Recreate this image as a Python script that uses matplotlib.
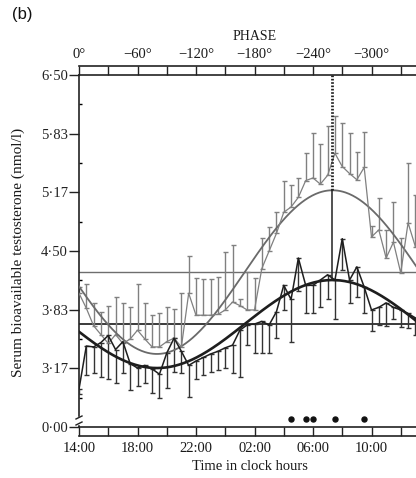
import numpy as np
import matplotlib
matplotlib.use("Agg")
import matplotlib.pyplot as plt
from matplotlib.lines import Line2D
from matplotlib.patches import Rectangle

# ---------------- data ----------------
hours = [0.0, 0.5, 1.0, 1.5, 2.0, 2.5, 3.0, 3.5, 4.0, 4.5, 5.0, 5.5, 6.0, 6.5,
         7.0, 7.5, 8.0, 8.5, 9.0, 9.5, 10.0, 10.5, 11.0, 11.5, 12.0, 12.5,
         13.0, 13.5, 14.0, 14.5, 15.0, 15.5, 16.0, 16.5, 17.0, 17.5, 18.0,
         18.5, 19.0, 19.5, 20.0, 20.5, 21.0, 21.5, 22.0, 22.5, 23.0]

gray_mean = [4.02, 3.85, 3.65, 3.55, 3.45, 3.55, 3.45, 3.50, 3.60, 3.50, 3.41,
             3.41, 3.47, 3.51, 3.41, 4.02, 3.77, 3.77, 3.77, 3.78, 3.83, 3.92,
             3.88, 3.83, 3.83, 4.30, 4.50, 4.70, 4.94, 5.00, 5.11, 5.30, 5.33,
             5.26, 5.36, 5.61, 5.46, 5.38, 5.31, 5.45, 4.66, 4.74, 4.42, 4.60,
             4.25, 4.82, 4.55]
gray_upper = [4.09, 4.12, 3.91, 3.81, 3.88, 3.98, 3.91, 3.86, 4.12, 3.91, 3.77,
              3.79, 3.86, 3.84, 4.02, 4.44, 4.19, 4.18, 4.18, 4.20, 4.49, 4.57,
              3.95, 4.26, 4.19, 4.65, 4.77, 4.94, 5.30, 5.25, 5.33, 5.61, 5.84,
              5.72, 5.92, 6.03, 5.96, 5.84, 5.63, 5.85, 4.78, 5.10, 4.74, 5.06,
              4.65, 5.50, 5.14]

black_mean = [2.93, 3.42, 3.41, 3.46, 3.54, 3.38, 3.47, 3.22, 3.17, 3.20, 3.16,
              3.10, 3.34, 3.51, 3.36, 3.20, 3.25, 3.29, 3.33, 3.36, 3.40, 3.43,
              3.60, 3.66, 3.67, 3.70, 3.66, 3.81, 4.11, 3.95, 4.42, 4.11, 4.11,
              4.17, 4.23, 4.17, 4.64, 4.17, 4.32, 4.09, 3.83, 3.86, 3.91, 3.86,
              3.83, 3.79, 3.74]
black_lower = [2.87, 3.09, 3.11, 3.07, 3.04, 3.00, 3.11, 2.92, 2.97, 3.00, 2.89,
               2.83, 2.94, 3.13, 3.11, 2.84, 3.05, 3.09, 3.12, 3.15, 3.17, 3.11,
               3.07, 3.43, 3.34, 3.34, 3.34, 3.51, 3.83, 3.47, 4.05, 3.80, 3.80,
               3.86, 3.95, 3.73, 4.28, 3.91, 3.98, 3.79, 3.59, 3.66, 3.65, 3.73,
               3.64, 3.62, 3.55]

# cosinor fits (mesor, amplitude, acrophase in hours after 14:00)
gray_mesor, gray_amp, gray_acro = 4.26, 0.93, 17.33
black_mesor, black_amp, black_acro = 3.67, 0.50, 17.33

sig_hours = [14.5, 15.5, 16.0, 17.5, 19.5]

time_ticks = [0, 4, 8, 12, 16, 20]
time_labels = ['14:00', '18:00', '22:00', '02:00', '06:00', '10:00']
phase_labels = ['0°', '\u221260°', '\u2212120°', '\u2212180°', '\u2212240°',
                '\u2212300°']
ytick_vals = [2.50, 3.17, 3.83, 4.50, 5.17, 5.83, 6.50]
ytick_labels = ['0·00', '3·17', '3·83', '4·50', '5·17', '5·83', '6·50']
yminor_vals = [2.83, 3.50, 4.17, 4.83, 5.50, 6.17]

# ---------------- figure ----------------
plt.rcParams['font.family'] = ['Liberation Serif', 'DejaVu Serif']
W, H = 416, 478
fig = plt.figure(figsize=(W / 100, H / 100), dpi=100)
ax = fig.add_axes([79 / W, (H - 427) / H, (430 - 79) / W, (427 - 75) / H])
ax.set_xlim(0, 24)
ax.set_ylim(2.5, 6.5)

hours_a = np.array(hours)
gm = np.array(gray_mean); gu = np.array(gray_upper)
bm = np.array(black_mean); bl = np.array(black_lower)

GRAY = '#808080'
DARK = '#1e1e1e'
TXT = '#1a1a1a'

# mesor lines
ax.axhline(gray_mesor, color='#6e6e6e', lw=1.0, zorder=1)
ax.axhline(black_mesor, color='#3a3a3a', lw=1.4, zorder=1)

# error bars
ax.errorbar(hours_a, gm, yerr=[np.zeros_like(gm), gu - gm], fmt='none',
            ecolor=GRAY, elinewidth=1.0, capsize=1.8, capthick=1.0, zorder=2)
ax.errorbar(hours_a, bm, yerr=[bm - bl, np.zeros_like(bm)], fmt='none',
            ecolor='#333333', elinewidth=1.0, capsize=1.8, capthick=1.0, zorder=3)

# fitted cosine curves
tt = np.linspace(0, 24, 400)
gray_fit = gray_mesor + gray_amp * np.cos(2 * np.pi * (tt - gray_acro) / 24)
black_fit = black_mesor + black_amp * np.cos(2 * np.pi * (tt - black_acro) / 24)
ax.plot(tt, gray_fit, color='#6a6a6a', lw=1.3, zorder=4)
ax.plot(tt, black_fit, color=DARK, lw=1.9, zorder=5)

# data lines
ax.plot(hours_a, gm, color=GRAY, lw=0.9, zorder=4)
ax.plot(hours_a, bm, color=DARK, lw=1.1, zorder=6)

# acrophase marker line
ax.plot([gray_acro, gray_acro], [6.5, gray_mesor + gray_amp], color='#222222',
        lw=2.0, ls=(0, (0.6, 0.6)), zorder=6)
ax.plot([gray_acro, gray_acro], [gray_mesor + gray_amp, black_mesor + black_amp],
        color='#222222', lw=1.1, zorder=6)

# significance dots
ax.plot(sig_hours, [2.59] * len(sig_hours), 'o', color='#111111', ms=3.6,
        zorder=7)

# spines
ax.spines['right'].set_visible(False)
for s in ['left', 'top', 'bottom']:
    ax.spines[s].set_linewidth(1.2)
    ax.spines[s].set_color('#222222')

# y axis
ax.set_yticks(ytick_vals)
ax.set_yticklabels(ytick_labels, fontsize=10.5, color=TXT)
ax.set_yticks(yminor_vals, minor=True)
ax.tick_params(axis='y', which='major', direction='out', length=7, width=1.0,
               pad=1, colors='#222222')
ax.tick_params(axis='y', which='minor', direction='in', length=2.5, width=1.0)

# x axis: rulers top & bottom
ax.set_xticks([])
band = 9 / 352
xtr = ax.get_xaxis_transform()
ax.plot([0, 24], [1 + band, 1 + band], color='#222222', lw=1.2,
        transform=xtr, clip_on=False)
ax.plot([0, 24], [-band, -band], color='#222222', lw=1.2,
        transform=xtr, clip_on=False)
rtick = list(range(0, 25, 2))
ax.vlines(rtick, 1, 1 + band, color='#222222', lw=1.0, transform=xtr,
          clip_on=False)
ax.vlines(rtick, -band, 0, color='#222222', lw=1.0, transform=xtr,
          clip_on=False)

for t, lab in zip(time_ticks, time_labels):
    ax.text(t, -21 / 352, lab, transform=xtr, ha='center', va='center',
            fontsize=10.5, color=TXT, clip_on=False)
for t, lab in zip(time_ticks, phase_labels):
    ax.text(t, 1 + 20 / 352, lab, transform=xtr, ha='center', va='center',
            fontsize=10.5, color=TXT, clip_on=False)

ax.text(12, 1 + 38 / 352, 'PHASE', transform=xtr, ha='center', va='center',
        fontsize=10, color=TXT)
fig.text(250 / W, 1 - 467 / H, 'Time in clock hours', ha='center',
         va='center', fontsize=10.5, color=TXT)
fig.text(18 / W, 1 - 252 / H, 'Serum bioavailable testosterone (nmol/l)',
         rotation=90, ha='center', va='center', fontsize=11, color=TXT)
fig.text(12 / W, 1 - 15 / H, '(b)', ha='left', va='center', fontsize=12,
         family=['Liberation Sans', 'DejaVu Sans'], color='#111111')

# axis break mark on the left spine
fig.add_artist(Rectangle((77 / W, 1 - 424 / H), 5 / W, 7 / H,
                         transform=fig.transFigure, color='white', zorder=10))
for yb in (417.5, 423.5):
    fig.add_artist(Line2D([76 / W, 82 / W], [1 - (yb + 1.5) / H, 1 - (yb - 1.5) / H],
                          transform=fig.transFigure, color='#222222', lw=1.0,
                          zorder=11))

fig.savefig('out.png', dpi=100)
